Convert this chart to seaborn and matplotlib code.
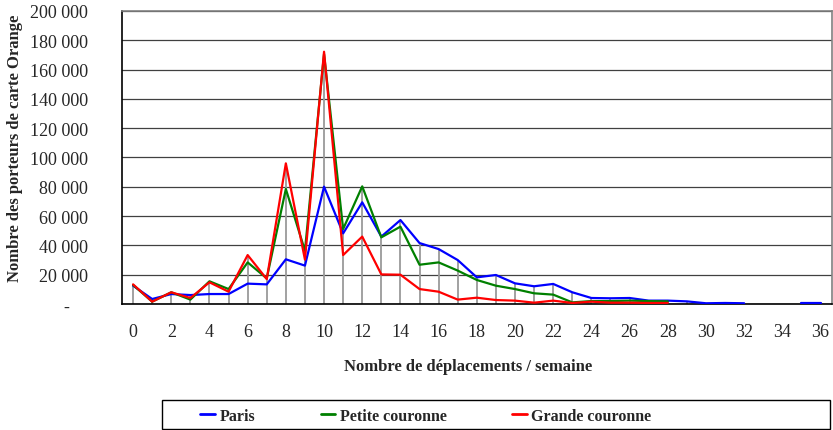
import numpy as np
import pandas as pd
import matplotlib
matplotlib.use("Agg")
import matplotlib.pyplot as plt
from matplotlib.patches import Rectangle
import seaborn as sns

# Données (nombre de porteurs par nb de déplacements / semaine)
deplacements = list(range(0, 37))
paris = [12500, 3400, 6800, 6100, 6800, 6800, 13900, 13400, 30500, 26200,
         80100, 48200, 69400, 46000, 57300, 41600, 37500, 30000, 18200, 19800,
         14100, 12100, 13700, 8000, 4100, 3900, 4100, 2300, 2300, 1800,
         500, 700, 500, np.nan, np.nan, 700, 700]
petite = [13000, 1600, 8000, 3000, 15500, 10200, 28400, 17500, 78500, 36400,
          170600, 51200, 80300, 45500, 52800, 26800, 28400, 22800, 16400, 12500,
          10200, 7300, 6400, 1100, 2000, 2000, 2300, 2000, 1800]
grande = [13400, 1600, 8000, 4100, 14800, 8400, 33400, 17000, 96000, 30300,
          172200, 33400, 46000, 20200, 20000, 10200, 8400, 3000, 4300, 2700,
          2300, 900, 2300, 700, 1600, 900, 900, 700, 700]

zones = ["Paris", "Petite couronne", "Grande couronne"]
couleurs = {"Paris": "#0000FF", "Petite couronne": "#008000", "Grande couronne": "#FF0000"}

rows = []
for zone, vals in zip(zones, [paris, petite, grande]):
    seg = 0
    for x, v in zip(deplacements, vals):
        if np.isnan(v):
            seg += 1
            continue
        rows.append({"x": x, "val": v, "zone": zone, "seg": seg})
df = pd.DataFrame(rows)

sns.set_style("white")
plt.rcParams["font.family"] = ["Liberation Serif", "DejaVu Serif"]

fig = plt.figure(figsize=(8.33, 4.31), dpi=100)
ax = fig.add_axes([122 / 833, 1 - 305 / 431, 710 / 833, 293 / 431])

# lignes de rappel grises (du max des séries jusqu'à l'axe)
maxi = df.groupby("x")["val"].max()
ax.vlines(maxi.index, 0, maxi.values, color="#9a9a9a", lw=1.3, zorder=1)

sns.lineplot(data=df, x="x", y="val", hue="zone", units="seg", estimator=None,
             palette=couleurs, hue_order=zones, lw=1.6, ax=ax, zorder=3)

ax.set_xlim(-0.58, 36.6)
ax.set_ylim(0, 200000)
ax.set_xticks(range(0, 37, 2))
ax.set_yticks(range(0, 200001, 20000))
ax.set_yticklabels(["-    "] + [f"{v:,}".replace(",", " ") for v in range(20000, 200001, 20000)])
ax.yaxis.grid(True, color="#404040", lw=0.9)
ax.set_axisbelow(True)

ax.tick_params(axis="y", direction="inout", length=9, width=1, color="black",
               pad=20, labelsize=13)
ax.tick_params(axis="x", length=0, pad=14, labelsize=13)

for s in ["left", "bottom"]:
    ax.spines[s].set_color("black")
    ax.spines[s].set_linewidth(1.2)
for s in ["top", "right"]:
    ax.spines[s].set_color("#808080")
    ax.spines[s].set_linewidth(1.2)

ax.set_ylabel("Nombre des porteurs de carte Orange", fontsize=12, fontweight="bold")
ax.yaxis.set_label_coords(-0.139, 0.534)
ax.set_xlabel("Nombre de déplacements / semaine", fontsize=12, fontweight="bold")
ax.xaxis.set_label_coords(0.487, -0.185)

handles, labels = ax.get_legend_handles_labels()
ax.get_legend().remove()
for h in handles:
    h.set_linewidth(2)

fig.patches.append(Rectangle((162 / 833, 1 - 430 / 431), 668 / 833, 29 / 431,
                             transform=fig.transFigure, fill=False,
                             edgecolor="black", lw=1))
fig.legend(handles, labels, loc="center left", bbox_to_anchor=(186 / 833, 1 - 417 / 431),
           ncol=3, frameon=False, handlelength=0.9, handletextpad=0.3,
           columnspacing=4.1, prop={"weight": "bold", "size": 11.5})

fig.savefig("out.png", dpi=100)
